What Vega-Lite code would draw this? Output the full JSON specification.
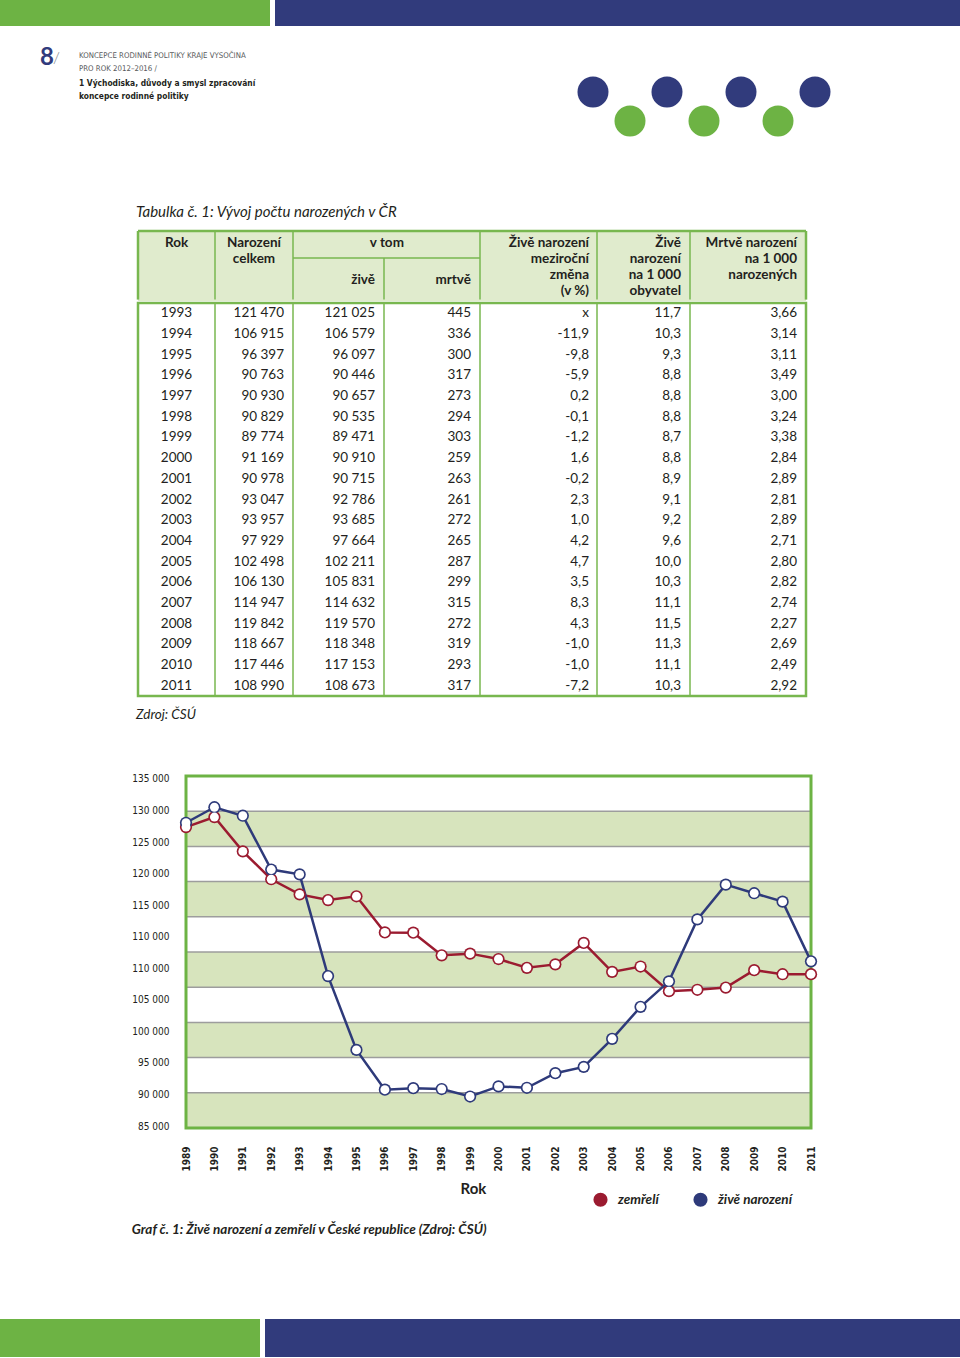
{
  "$schema": "https://vega.github.io/schema/vega-lite/v6.json",
  "padding": 0,
  "background": "white",
  "spacing": 0,
  "resolve": {"scale": {"color": "independent"}, "legend": {"color": "independent"}},
  "config": {
    "view": {"stroke": null},
    "font": "Lato",
    "concat": {"spacing": 0},
    "axis": {"labelOverlap": false, "labelFlush": false},
    "locale": {"number": {"decimal": ",", "thousands": "\u00a0", "grouping": [3], "currency": ["", " Kč"], "minus": "-"}}
  },
  "datasets": {
    "hlavicka": [
      {"radek": 0, "text": "KONCEPCE RODINNÉ POLITIKY KRAJE VYSOČINA"},
      {"radek": 1, "text": "PRO ROK 2012–2016 /"},
      {"radek": 2, "text": "1  Východiska, důvody a smysl zpracování"},
      {"radek": 3, "text": "koncepce rodinné politiky"}
    ],
    "tecky": [
      {"poradi": 0, "rada": "horní"}, {"poradi": 1, "rada": "dolní"}, {"poradi": 2, "rada": "horní"},
      {"poradi": 3, "rada": "dolní"}, {"poradi": 4, "rada": "horní"}, {"poradi": 5, "rada": "dolní"},
      {"poradi": 6, "rada": "horní"}
    ],
    "tabulka": [
      {"rok": 1993, "celkem": 121470, "zive": 121025, "mrtve": 445, "zmena": null, "obyv": 11.7, "mrtve1000": 3.66},
      {"rok": 1994, "celkem": 106915, "zive": 106579, "mrtve": 336, "zmena": -11.9, "obyv": 10.3, "mrtve1000": 3.14},
      {"rok": 1995, "celkem": 96397, "zive": 96097, "mrtve": 300, "zmena": -9.8, "obyv": 9.3, "mrtve1000": 3.11},
      {"rok": 1996, "celkem": 90763, "zive": 90446, "mrtve": 317, "zmena": -5.9, "obyv": 8.8, "mrtve1000": 3.49},
      {"rok": 1997, "celkem": 90930, "zive": 90657, "mrtve": 273, "zmena": 0.2, "obyv": 8.8, "mrtve1000": 3.00},
      {"rok": 1998, "celkem": 90829, "zive": 90535, "mrtve": 294, "zmena": -0.1, "obyv": 8.8, "mrtve1000": 3.24},
      {"rok": 1999, "celkem": 89774, "zive": 89471, "mrtve": 303, "zmena": -1.2, "obyv": 8.7, "mrtve1000": 3.38},
      {"rok": 2000, "celkem": 91169, "zive": 90910, "mrtve": 259, "zmena": 1.6, "obyv": 8.8, "mrtve1000": 2.84},
      {"rok": 2001, "celkem": 90978, "zive": 90715, "mrtve": 263, "zmena": -0.2, "obyv": 8.9, "mrtve1000": 2.89},
      {"rok": 2002, "celkem": 93047, "zive": 92786, "mrtve": 261, "zmena": 2.3, "obyv": 9.1, "mrtve1000": 2.81},
      {"rok": 2003, "celkem": 93957, "zive": 93685, "mrtve": 272, "zmena": 1.0, "obyv": 9.2, "mrtve1000": 2.89},
      {"rok": 2004, "celkem": 97929, "zive": 97664, "mrtve": 265, "zmena": 4.2, "obyv": 9.6, "mrtve1000": 2.71},
      {"rok": 2005, "celkem": 102498, "zive": 102211, "mrtve": 287, "zmena": 4.7, "obyv": 10.0, "mrtve1000": 2.80},
      {"rok": 2006, "celkem": 106130, "zive": 105831, "mrtve": 299, "zmena": 3.5, "obyv": 10.3, "mrtve1000": 2.82},
      {"rok": 2007, "celkem": 114947, "zive": 114632, "mrtve": 315, "zmena": 8.3, "obyv": 11.1, "mrtve1000": 2.74},
      {"rok": 2008, "celkem": 119842, "zive": 119570, "mrtve": 272, "zmena": 4.3, "obyv": 11.5, "mrtve1000": 2.27},
      {"rok": 2009, "celkem": 118667, "zive": 118348, "mrtve": 319, "zmena": -1.0, "obyv": 11.3, "mrtve1000": 2.69},
      {"rok": 2010, "celkem": 117446, "zive": 117153, "mrtve": 293, "zmena": -1.0, "obyv": 11.1, "mrtve1000": 2.49},
      {"rok": 2011, "celkem": 108990, "zive": 108673, "mrtve": 317, "zmena": -7.2, "obyv": 10.3, "mrtve1000": 2.92}
    ],
    "pasy": [
      {"od": 85000, "do": 90000}, {"od": 95000, "do": 100000}, {"od": 105000, "do": 110000},
      {"od": 115000, "do": 120000}, {"od": 125000, "do": 130000}
    ],
    "graf": [
      {"rok": 1989, "serie": "zemřelí", "pocet": 127747}, {"rok": 1990, "serie": "zemřelí", "pocet": 129166},
      {"rok": 1991, "serie": "zemřelí", "pocet": 124290}, {"rok": 1992, "serie": "zemřelí", "pocet": 120337},
      {"rok": 1993, "serie": "zemřelí", "pocet": 118185}, {"rok": 1994, "serie": "zemřelí", "pocet": 117373},
      {"rok": 1995, "serie": "zemřelí", "pocet": 117913}, {"rok": 1996, "serie": "zemřelí", "pocet": 112782},
      {"rok": 1997, "serie": "zemřelí", "pocet": 112744}, {"rok": 1998, "serie": "zemřelí", "pocet": 109527},
      {"rok": 1999, "serie": "zemřelí", "pocet": 109768}, {"rok": 2000, "serie": "zemřelí", "pocet": 109001},
      {"rok": 2001, "serie": "zemřelí", "pocet": 107755}, {"rok": 2002, "serie": "zemřelí", "pocet": 108243},
      {"rok": 2003, "serie": "zemřelí", "pocet": 111288}, {"rok": 2004, "serie": "zemřelí", "pocet": 107177},
      {"rok": 2005, "serie": "zemřelí", "pocet": 107938}, {"rok": 2006, "serie": "zemřelí", "pocet": 104441},
      {"rok": 2007, "serie": "zemřelí", "pocet": 104636}, {"rok": 2008, "serie": "zemřelí", "pocet": 104948},
      {"rok": 2009, "serie": "zemřelí", "pocet": 107421}, {"rok": 2010, "serie": "zemřelí", "pocet": 106844},
      {"rok": 2011, "serie": "zemřelí", "pocet": 106848},
      {"rok": 1989, "serie": "živě narození", "pocet": 128356}, {"rok": 1990, "serie": "živě narození", "pocet": 130564},
      {"rok": 1991, "serie": "živě narození", "pocet": 129354}, {"rok": 1992, "serie": "živě narození", "pocet": 121705},
      {"rok": 1993, "serie": "živě narození", "pocet": 121025}, {"rok": 1994, "serie": "živě narození", "pocet": 106579},
      {"rok": 1995, "serie": "živě narození", "pocet": 96097}, {"rok": 1996, "serie": "živě narození", "pocet": 90446},
      {"rok": 1997, "serie": "živě narození", "pocet": 90657}, {"rok": 1998, "serie": "živě narození", "pocet": 90535},
      {"rok": 1999, "serie": "živě narození", "pocet": 89471}, {"rok": 2000, "serie": "živě narození", "pocet": 90910},
      {"rok": 2001, "serie": "živě narození", "pocet": 90715}, {"rok": 2002, "serie": "živě narození", "pocet": 92786},
      {"rok": 2003, "serie": "živě narození", "pocet": 93685}, {"rok": 2004, "serie": "živě narození", "pocet": 97664},
      {"rok": 2005, "serie": "živě narození", "pocet": 102211}, {"rok": 2006, "serie": "živě narození", "pocet": 105831},
      {"rok": 2007, "serie": "živě narození", "pocet": 114632}, {"rok": 2008, "serie": "živě narození", "pocet": 119570},
      {"rok": 2009, "serie": "živě narození", "pocet": 118348}, {"rok": 2010, "serie": "živě narození", "pocet": 117153},
      {"rok": 2011, "serie": "živě narození", "pocet": 108673}
    ]
  },
  "vconcat": [
    {"hconcat": [
      {"width": 270, "height": 26, "view": {"fill": "#6db344"}, "data": {"values": []}, "mark": "point"},
      {"width": 685, "height": 26, "view": {"fill": "#313b7c"}, "data": {"values": []}, "mark": "point"}
    ], "spacing": 5},
    {"hconcat": [
      {"width": 40, "height": 174, "data": {"values": []}, "mark": "point"},
      {"vconcat": [
        {"width": 20, "height": 19.5, "data": {"values": []}, "mark": "point"},
        {"width": 20, "height": 2, "data": {"values": [{}]}, "layer": [
          {"mark": {"type": "text", "align": "left", "baseline": "middle", "font": "Lato", "fontSize": 24, "fontWeight": "bold", "color": "#313b7c"},
           "encoding": {"x": {"datum": 0, "type": "quantitative", "scale": {"domain": [0, 1]}, "axis": null}, "text": {"value": "8"}}},
          {"mark": {"type": "text", "align": "right", "baseline": "middle", "font": "Lato", "fontSize": 16, "fontWeight": 300, "color": "#808285"},
           "encoding": {"x": {"datum": 1, "type": "quantitative", "scale": {"domain": [0, 1]}, "axis": null}, "text": {"value": "/"}}}
        ]}
      ], "spacing": 0},
      {"width": 19, "height": 1, "data": {"values": []}, "mark": "point"},
      {"vconcat": [
        {"width": 497.5, "height": 26, "data": {"values": []}, "mark": "point"},
        {"width": 497.5, "height": 40, "data": {"name": "hlavicka"}, "layer": [
          {"transform": [{"filter": "datum.radek < 2"}],
           "mark": {"type": "text", "align": "left", "baseline": "middle", "font": "DejaVu Sans Condensed", "fontSize": 7.8, "color": "#58595b"},
           "encoding": {"x": {"datum": 0, "type": "quantitative", "scale": {"domain": [0, 1]}, "axis": null},
                        "y": {"field": "radek", "type": "quantitative", "scale": {"domain": [0, 3], "reverse": true}, "axis": null},
                        "text": {"field": "text"}}},
          {"transform": [{"filter": "datum.radek >= 2"}],
           "mark": {"type": "text", "align": "left", "baseline": "middle", "font": "DejaVu Sans Condensed", "fontSize": 8.4, "fontWeight": "bold", "color": "#231f20"},
           "encoding": {"x": {"datum": 0, "type": "quantitative", "scale": {"domain": [0, 1]}, "axis": null},
                        "y": {"field": "radek", "type": "quantitative", "scale": {"domain": [0, 3], "reverse": true}, "axis": null},
                        "text": {"field": "text"}}}
        ]}
      ], "spacing": 0},
      {"vconcat": [
        {"width": 222, "height": 49.5, "data": {"values": []}, "mark": "point"},
        {"width": 222, "height": 29, "data": {"name": "tecky"},
         "mark": {"type": "circle", "size": 961, "opacity": 1},
         "encoding": {
           "x": {"field": "poradi", "type": "quantitative", "scale": {"domain": [0, 6]}, "axis": null},
           "y": {"field": "rada", "type": "nominal", "scale": {"type": "point", "domain": ["horní", "dolní"], "padding": 0}, "axis": null},
           "color": {"field": "rada", "type": "nominal", "scale": {"domain": ["horní", "dolní"], "range": ["#313b7c", "#6db344"]}, "legend": null}
         }}
      ], "spacing": 0}
    ], "spacing": 0},
    {"hconcat": [
      {"width": 136, "height": 29, "data": {"values": []}, "mark": "point"},
      {"width": 668, "height": 24, "data": {"values": [{}]},
       "mark": {"type": "text", "align": "left", "baseline": "middle", "font": "Lato", "fontSize": 15, "fontStyle": "italic", "color": "#231f20"},
       "encoding": {"x": {"datum": 0, "type": "quantitative", "scale": {"domain": [0, 1]}, "axis": null}, "text": {"value": "Tabulka č. 1:  Vývoj počtu narozených v ČR"}}}
    ], "spacing": 0},
    {"hconcat": [
      {"width": 136, "height": 70, "data": {"values": []}, "mark": "point"},
      {"width": 668, "height": 70, "view": {"fill": "#e0ebcd"}, "data": {"values": [{}]}, "layer": [
        {"mark": {"type": "rule", "color": "#78b74f", "strokeWidth": 2.5},
         "encoding": {"y": {"datum": 0, "type": "quantitative", "scale": {"domain": [0, 1], "reverse": true}, "axis": null}}},
        {"mark": {"type": "rule", "color": "#78b74f", "strokeWidth": 2.5},
         "encoding": {"x": {"datum": 0, "type": "quantitative", "scale": {"domain": [0, 1, 2, 3, 4, 5, 6, 7], "range": [0, 77, 155, 246, 342, 459, 552, 668]}, "axis": null},
                      "y": {"datum": 0, "type": "quantitative", "axis": null}, "y2": {"datum": 0.98}}},
        {"mark": {"type": "rule", "color": "#78b74f", "strokeWidth": 2.5},
         "encoding": {"x": {"datum": 7, "type": "quantitative", "axis": null}, "y": {"datum": 0, "type": "quantitative", "axis": null}, "y2": {"datum": 0.98}}},
        {"mark": {"type": "rule", "color": "#78b74f", "strokeWidth": 1.5},
         "encoding": {"x": {"datum": 1, "type": "quantitative", "axis": null}, "y": {"datum": 0, "type": "quantitative", "axis": null}, "y2": {"datum": 0.98}}},
        {"mark": {"type": "rule", "color": "#78b74f", "strokeWidth": 1.5},
         "encoding": {"x": {"datum": 2, "type": "quantitative", "axis": null}, "y": {"datum": 0, "type": "quantitative", "axis": null}, "y2": {"datum": 0.98}}},
        {"mark": {"type": "rule", "color": "#78b74f", "strokeWidth": 1.5},
         "encoding": {"x": {"datum": 4, "type": "quantitative", "axis": null}, "y": {"datum": 0, "type": "quantitative", "axis": null}, "y2": {"datum": 0.98}}},
        {"mark": {"type": "rule", "color": "#78b74f", "strokeWidth": 1.5},
         "encoding": {"x": {"datum": 5, "type": "quantitative", "axis": null}, "y": {"datum": 0, "type": "quantitative", "axis": null}, "y2": {"datum": 0.98}}},
        {"mark": {"type": "rule", "color": "#78b74f", "strokeWidth": 1.5},
         "encoding": {"x": {"datum": 6, "type": "quantitative", "axis": null}, "y": {"datum": 0, "type": "quantitative", "axis": null}, "y2": {"datum": 0.98}}},
        {"mark": {"type": "rule", "color": "#78b74f", "strokeWidth": 1.5},
         "encoding": {"x": {"datum": 3, "type": "quantitative", "axis": null},
                      "y": {"datum": 0.386, "type": "quantitative", "axis": null}, "y2": {"datum": 0.98}}},
        {"mark": {"type": "rule", "color": "#78b74f", "strokeWidth": 1.5},
         "encoding": {"x": {"datum": 2, "type": "quantitative", "axis": null}, "x2": {"datum": 4},
                      "y": {"datum": 0.386, "type": "quantitative", "axis": null}}},
        {"mark": {"type": "text", "align": "center", "baseline": "top", "dy": 5, "font": "Lato", "fontSize": 13.5, "fontWeight": "bold", "color": "#231f20", "lineBreak": "\n", "lineHeight": 16},
         "encoding": {"x": {"datum": 0.5, "type": "quantitative", "axis": null}, "y": {"datum": 0, "type": "quantitative", "axis": null}, "text": {"value": "Rok"}}},
        {"mark": {"type": "text", "align": "center", "baseline": "top", "dy": 5, "font": "Lato", "fontSize": 13.5, "fontWeight": "bold", "color": "#231f20", "lineBreak": "\n", "lineHeight": 16},
         "encoding": {"x": {"datum": 1.5, "type": "quantitative", "axis": null}, "y": {"datum": 0, "type": "quantitative", "axis": null}, "text": {"value": "Narození\ncelkem"}}},
        {"mark": {"type": "text", "align": "center", "baseline": "top", "dy": 5, "font": "Lato", "fontSize": 13.5, "fontWeight": "bold", "color": "#231f20", "lineBreak": "\n", "lineHeight": 16},
         "encoding": {"x": {"datum": 3.03, "type": "quantitative", "axis": null}, "y": {"datum": 0, "type": "quantitative", "axis": null}, "text": {"value": "v tom"}}},
        {"mark": {"type": "text", "align": "right", "baseline": "middle", "dx": -9, "font": "Lato", "fontSize": 13.5, "fontWeight": "bold", "color": "#231f20"},
         "encoding": {"x": {"datum": 3, "type": "quantitative", "axis": null}, "y": {"datum": 0.693, "type": "quantitative", "axis": null}, "text": {"value": "živě"}}},
        {"mark": {"type": "text", "align": "right", "baseline": "middle", "dx": -9, "font": "Lato", "fontSize": 13.5, "fontWeight": "bold", "color": "#231f20"},
         "encoding": {"x": {"datum": 4, "type": "quantitative", "axis": null}, "y": {"datum": 0.693, "type": "quantitative", "axis": null}, "text": {"value": "mrtvě"}}},
        {"mark": {"type": "text", "align": "right", "baseline": "top", "dx": -8, "dy": 5, "font": "Lato", "fontSize": 13.5, "fontWeight": "bold", "color": "#231f20", "lineBreak": "\n", "lineHeight": 16},
         "encoding": {"x": {"datum": 5, "type": "quantitative", "axis": null}, "y": {"datum": 0, "type": "quantitative", "axis": null}, "text": {"value": "Živě narození\nmeziroční\nzměna\n(v %)"}}},
        {"mark": {"type": "text", "align": "right", "baseline": "top", "dx": -9, "dy": 5, "font": "Lato", "fontSize": 13.5, "fontWeight": "bold", "color": "#231f20", "lineBreak": "\n", "lineHeight": 16},
         "encoding": {"x": {"datum": 6, "type": "quantitative", "axis": null}, "y": {"datum": 0, "type": "quantitative", "axis": null}, "text": {"value": "Živě\nnarození\nna 1 000\nobyvatel"}}},
        {"mark": {"type": "text", "align": "right", "baseline": "top", "dx": -9, "dy": 5, "font": "Lato", "fontSize": 13.5, "fontWeight": "bold", "color": "#231f20", "lineBreak": "\n", "lineHeight": 16},
         "encoding": {"x": {"datum": 7, "type": "quantitative", "axis": null}, "y": {"datum": 0, "type": "quantitative", "axis": null}, "text": {"value": "Mrtvě narození\nna 1 000\nnarozených"}}}
      ]}
    ], "spacing": 0},
    {"hconcat": [
      {"width": 136, "height": 393, "data": {"values": []}, "mark": "point"},
      {"width": 668, "height": 393, "view": {"fill": "white", "stroke": "#78b74f", "strokeWidth": 2.5}, "data": {"name": "tabulka"}, "layer": [
        {"data": {"values": [{}]}, "mark": {"type": "rule", "color": "#78b74f", "strokeWidth": 1.5},
         "encoding": {"x": {"datum": 1, "type": "quantitative", "scale": {"domain": [0, 1, 2, 3, 4, 5, 6, 7], "range": [0, 77, 155, 246, 342, 459, 552, 668]}, "axis": null}}},
        {"data": {"values": [{}]}, "mark": {"type": "rule", "color": "#78b74f", "strokeWidth": 1.5},
         "encoding": {"x": {"datum": 2, "type": "quantitative", "axis": null}}},
        {"data": {"values": [{}]}, "mark": {"type": "rule", "color": "#78b74f", "strokeWidth": 1.5},
         "encoding": {"x": {"datum": 3, "type": "quantitative", "axis": null}}},
        {"data": {"values": [{}]}, "mark": {"type": "rule", "color": "#78b74f", "strokeWidth": 1.5},
         "encoding": {"x": {"datum": 4, "type": "quantitative", "axis": null}}},
        {"data": {"values": [{}]}, "mark": {"type": "rule", "color": "#78b74f", "strokeWidth": 1.5},
         "encoding": {"x": {"datum": 5, "type": "quantitative", "axis": null}}},
        {"data": {"values": [{}]}, "mark": {"type": "rule", "color": "#78b74f", "strokeWidth": 1.5},
         "encoding": {"x": {"datum": 6, "type": "quantitative", "axis": null}}},
        {"mark": {"type": "text", "align": "center", "baseline": "middle", "font": "Lato", "fontSize": 13.5, "color": "#231f20"},
         "encoding": {"x": {"datum": 0.5, "type": "quantitative", "axis": null}, "y": {"field": "rok", "type": "ordinal", "axis": null}, "text": {"field": "rok", "type": "ordinal"}}},
        {"mark": {"type": "text", "align": "right", "baseline": "middle", "dx": -9, "font": "Lato", "fontSize": 13.5, "color": "#231f20"},
         "encoding": {"x": {"datum": 2, "type": "quantitative", "axis": null}, "y": {"field": "rok", "type": "ordinal", "axis": null}, "text": {"field": "celkem", "type": "quantitative", "format": ",d"}}},
        {"mark": {"type": "text", "align": "right", "baseline": "middle", "dx": -9, "font": "Lato", "fontSize": 13.5, "color": "#231f20"},
         "encoding": {"x": {"datum": 3, "type": "quantitative", "axis": null}, "y": {"field": "rok", "type": "ordinal", "axis": null}, "text": {"field": "zive", "type": "quantitative", "format": ",d"}}},
        {"mark": {"type": "text", "align": "right", "baseline": "middle", "dx": -9, "font": "Lato", "fontSize": 13.5, "color": "#231f20"},
         "encoding": {"x": {"datum": 4, "type": "quantitative", "axis": null}, "y": {"field": "rok", "type": "ordinal", "axis": null}, "text": {"field": "mrtve", "type": "quantitative", "format": ",d"}}},
        {"mark": {"type": "text", "align": "right", "baseline": "middle", "dx": -8, "font": "Lato", "fontSize": 13.5, "color": "#231f20"},
         "encoding": {"x": {"datum": 5, "type": "quantitative", "axis": null}, "y": {"field": "rok", "type": "ordinal", "axis": null},
                      "text": {"condition": {"test": "datum.zmena === null", "value": "x"}, "field": "zmena", "type": "quantitative", "format": ".1f"}}},
        {"mark": {"type": "text", "align": "right", "baseline": "middle", "dx": -9, "font": "Lato", "fontSize": 13.5, "color": "#231f20"},
         "encoding": {"x": {"datum": 6, "type": "quantitative", "axis": null}, "y": {"field": "rok", "type": "ordinal", "axis": null}, "text": {"field": "obyv", "type": "quantitative", "format": ".1f"}}},
        {"mark": {"type": "text", "align": "right", "baseline": "middle", "dx": -9, "font": "Lato", "fontSize": 13.5, "color": "#231f20"},
         "encoding": {"x": {"datum": 7, "type": "quantitative", "axis": null}, "y": {"field": "rok", "type": "ordinal", "axis": null}, "text": {"field": "mrtve1000", "type": "quantitative", "format": ".2f"}}}
      ]}
    ], "spacing": 0},
    {"hconcat": [
      {"width": 136, "height": 34, "data": {"values": []}, "mark": "point"},
      {"width": 668, "height": 34, "data": {"values": [{}]},
       "mark": {"type": "text", "align": "left", "baseline": "middle", "font": "Lato", "fontSize": 13.5, "fontStyle": "italic", "color": "#231f20"},
       "encoding": {"x": {"datum": 0, "type": "quantitative", "scale": {"domain": [0, 1]}, "axis": null}, "text": {"value": "Zdroj: ČSÚ"}}}
    ], "spacing": 0},
    {"width": 960, "height": 40.5, "data": {"values": []}, "mark": "point"},
    {"hconcat": [
      {"width": 131, "height": 352, "data": {"values": []}, "mark": "point"},
      {"width": 625, "height": 352,
       "title": {"text": "Graf č. 1: Živě narození a zemřelí v České republice (Zdroj: ČSÚ)", "orient": "bottom", "anchor": "start", "frame": "bounds", "font": "Lato", "fontSize": 13.5, "fontStyle": "italic", "fontWeight": "bold", "color": "#231f20", "offset": 27},
       "layer": [
        {"data": {"name": "pasy"}, "mark": {"type": "rect", "color": "#d7e4bd"},
         "encoding": {"y": {"field": "od", "type": "quantitative", "scale": {"domain": [85000, 135000], "nice": false, "zero": false},
                            "axis": {"values": [85284, 89765, 94246, 98727, 103208, 107689, 112170, 116651, 121132, 125613, 130094, 134575], "tickCount": 30,
                                     "labelExpr": "format(round((datum.value - 85284) / 4481) <= 5 ? 85000 + 5000 * round((datum.value - 85284) / 4481) : 80000 + 5000 * round((datum.value - 85284) / 4481), ',d')",
                                     "labelFont": "DejaVu Sans Condensed", "labelFontSize": 10, "labelColor": "#231f20", "labelPadding": 17,
                                     "labelFlush": false, "labelOverlap": false, "ticks": false, "domain": false, "grid": false, "title": null}},
                      "y2": {"field": "do"}}},
        {"data": {"name": "pasy"}, "mark": {"type": "rule", "color": "#9d9d9d", "strokeWidth": 1.5},
         "encoding": {"y": {"field": "od", "type": "quantitative"}}},
        {"data": {"name": "pasy"}, "mark": {"type": "rule", "color": "#9d9d9d", "strokeWidth": 1.5},
         "encoding": {"y": {"field": "do", "type": "quantitative"}}},
        {"data": {"values": [{}]}, "mark": {"type": "rect", "fill": "transparent", "stroke": "#6db344", "strokeWidth": 3}, "encoding": {}},
        {"data": {"name": "graf"}, "mark": {"type": "line", "strokeWidth": 2.5},
         "encoding": {
           "x": {"field": "rok", "type": "quantitative", "scale": {"domain": [1989, 2011], "nice": false, "zero": false},
                 "axis": {"values": [1989, 1990, 1991, 1992, 1993, 1994, 1995, 1996, 1997, 1998, 1999, 2000, 2001, 2002, 2003, 2004, 2005, 2006, 2007, 2008, 2009, 2010, 2011], "tickCount": 30,
                          "format": "d", "labelAngle": -90, "labelFlush": false, "labelOverlap": false, "labelBound": false,
                          "labelFont": "DejaVu Sans Condensed", "labelFontWeight": "bold", "labelFontSize": 10, "labelColor": "#231f20", "labelPadding": 18,
                          "ticks": false, "domain": false, "grid": false,
                          "title": "Rok", "titleFont": "Lato", "titleFontSize": 15, "titleFontWeight": "bold", "titleColor": "#231f20", "titlePadding": 10, "titleX": 287}},
           "y": {"field": "pocet", "type": "quantitative", "scale": {"domain": [85000, 135000], "nice": false, "zero": false},
                 "axis": {"values": [85284, 89765, 94246, 98727, 103208, 107689, 112170, 116651, 121132, 125613, 130094, 134575], "tickCount": 30,
                          "labelExpr": "format(round((datum.value - 85284) / 4481) <= 5 ? 85000 + 5000 * round((datum.value - 85284) / 4481) : 80000 + 5000 * round((datum.value - 85284) / 4481), ',d')",
                          "labelFont": "DejaVu Sans Condensed", "labelFontSize": 10, "labelColor": "#231f20", "labelPadding": 17,
                          "labelFlush": false, "labelOverlap": false, "ticks": false, "domain": false, "grid": false, "title": null}},
           "color": {"field": "serie", "type": "nominal", "scale": {"domain": ["zemřelí", "živě narození"], "range": ["#9b1b30", "#2e3a7a"]}}
         }},
        {"data": {"name": "graf"}, "mark": {"type": "point", "filled": true, "size": 150, "opacity": 1},
         "encoding": {
           "x": {"field": "rok", "type": "quantitative"},
           "y": {"field": "pocet", "type": "quantitative"},
           "color": {"field": "serie", "type": "nominal",
                     "legend": {"orient": "none", "legendX": 593, "legendY": 416, "direction": "horizontal", "title": null, "symbolType": "circle", "symbolSize": 200, "symbolStrokeWidth": 0,
                                "labelFont": "Lato", "labelFontSize": 13.5, "labelFontStyle": "italic", "labelFontWeight": "bold", "labelColor": "#231f20", "labelOffset": 10, "columnPadding": 34}}
         }},
        {"data": {"name": "graf"}, "mark": {"type": "point", "filled": true, "size": 80, "color": "white", "opacity": 1},
         "encoding": {
           "x": {"field": "rok", "type": "quantitative"},
           "y": {"field": "pocet", "type": "quantitative"}
         }}
      ]}
    ], "spacing": 0},
    {"width": 960, "height": 82, "data": {"values": []}, "mark": "point"},
    {"hconcat": [
      {"width": 260, "height": 38, "view": {"fill": "#6db344"}, "data": {"values": []}, "mark": "point"},
      {"width": 695, "height": 38, "view": {"fill": "#313b7c"}, "data": {"values": []}, "mark": "point"}
    ], "spacing": 5}
  ]
}
